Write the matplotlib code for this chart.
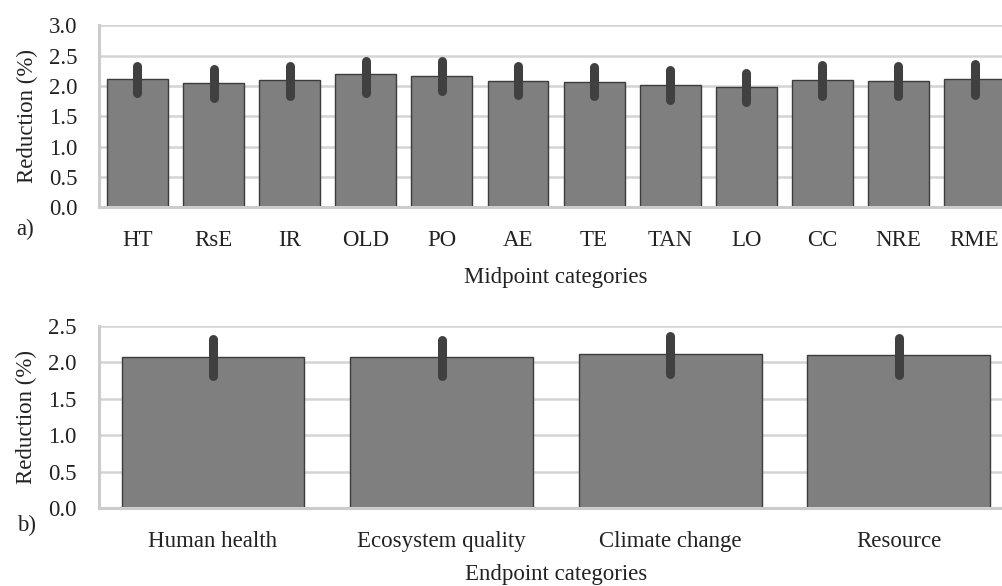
import matplotlib
matplotlib.use("Agg")
import matplotlib.pyplot as plt
import numpy as np

plt.rcParams['font.family'] = ['Liberation Serif', 'DejaVu Serif']

# ---- data ----
mid_categories = ["HT", "RsE", "IR", "OLD", "PO", "AE", "TE", "TAN", "LO", "CC", "NRE", "RME"]
mid_values = [2.11, 2.05, 2.10, 2.19, 2.17, 2.09, 2.07, 2.02, 1.99, 2.10, 2.09, 2.12]
mid_err_low = [1.88, 1.80, 1.84, 1.89, 1.92, 1.85, 1.83, 1.77, 1.74, 1.84, 1.84, 1.85]
mid_err_high = [2.33, 2.28, 2.33, 2.42, 2.42, 2.33, 2.32, 2.27, 2.21, 2.34, 2.33, 2.37]
mid_yticks = [0.0, 0.5, 1.0, 1.5, 2.0, 2.5, 3.0]

end_categories = ["Human health", "Ecosystem quality", "Climate change", "Resource"]
end_values = [2.07, 2.07, 2.11, 2.10]
end_err_low = [1.81, 1.81, 1.84, 1.83]
end_err_high = [2.32, 2.31, 2.36, 2.33]
end_yticks = [0.0, 0.5, 1.0, 1.5, 2.0, 2.5]

BAR = "#7f7f7f"
EDGE = "#3c3c3c"
ERR = "#404040"
GRID = "#d4d4d4"
FS = 16.5

fig = plt.figure(figsize=(10.02, 5.86), dpi=100)
ax1 = fig.add_axes([0.0992, 0.6462, 0.9114, 0.3106])
ax2 = fig.add_axes([0.0985, 0.1326, 0.9125, 0.3111])


def draw(ax, cats, vals, lo, hi, yticks, xlabel, xlabelpad):
    x = np.arange(len(cats))
    ax.set_axisbelow(True)
    ax.bar(x, vals, width=0.8, color=BAR, edgecolor=EDGE, linewidth=1.0, zorder=2)
    for xi, l, h in zip(x, lo, hi):
        ax.plot([xi, xi], [l, h], color=ERR, linewidth=6.5, solid_capstyle='round', zorder=3)
    ax.set_xlim(-0.5, len(cats) - 0.5)
    ax.set_ylim(0, yticks[-1])
    ax.set_yticks(yticks)
    ax.set_yticklabels([f"{t:.1f}" for t in yticks], fontsize=FS)
    ax.set_xticks(x)
    ax.set_xticklabels(cats, fontsize=FS, color="#222222")
    for lab in ax.get_yticklabels():
        lab.set_color("#222222")
    ax.tick_params(axis='both', length=0, pad=16)
    ax.yaxis.grid(True, color=GRID, linewidth=1.8)
    ax.xaxis.grid(False)
    for s in ['top', 'right']:
        ax.spines[s].set_visible(False)
    for s in ['left', 'bottom']:
        ax.spines[s].set_color("#cccccc")
        ax.spines[s].set_linewidth(2.2)
    ax.set_ylabel("Reduction (%)", fontsize=FS, color="#222222", labelpad=8)
    ax.set_xlabel(xlabel, fontsize=FS, color="#222222", labelpad=xlabelpad)


draw(ax1, mid_categories, mid_values, mid_err_low, mid_err_high, mid_yticks, "Midpoint categories", 12)
draw(ax2, end_categories, end_values, end_err_low, end_err_high, end_yticks, "Endpoint categories", 9)

fig.text(16 / 1002, 1 - 229 / 586, "a)", fontsize=FS, color="#222222", ha='left', va='center')
fig.text(17 / 1002, 1 - 525 / 586, "b)", fontsize=FS, color="#222222", ha='left', va='center')

fig.savefig("out.png", dpi=100)
